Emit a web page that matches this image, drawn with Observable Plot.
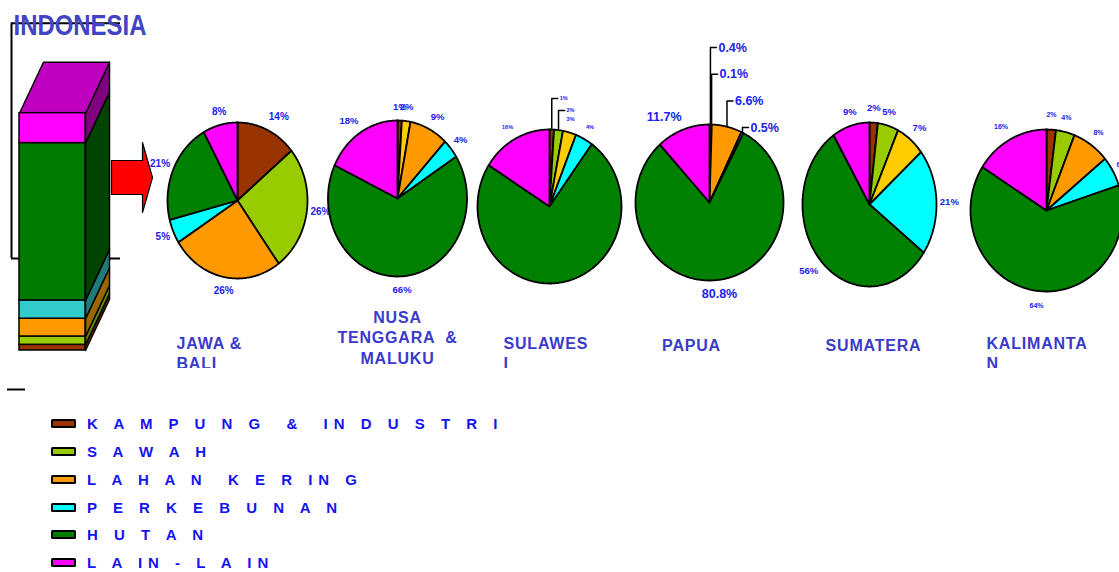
<!DOCTYPE html>
<html><head><meta charset="utf-8">
<script src="https://cdn.jsdelivr.net/npm/d3@7"></script>
<script src="https://cdn.jsdelivr.net/npm/@observablehq/plot@0.6"></script>
<style>
body{margin:0;background:#fff;font-family:"Liberation Sans",Arial,sans-serif;}
#chart{position:relative;width:1119px;height:572px;overflow:hidden;background:#fff}
#legend{padding-top:5px}
.row{height:27.75px;display:flex;align-items:center}
.sw{width:21px;height:5px;border:2px solid #000;border-radius:1.5px;margin-left:51px;margin-right:11px;flex:none}
.lt{font-weight:bold;font-size:15px;color:#1414f0;white-space:pre;letter-spacing:6px;line-height:15px}
</style></head><body><div id="chart"></div><script>
// ---------- data ----------
const categories = ["KAMPUNG & INDUSTRI","SAWAH","LAHAN KERING","PERKEBUNAN","HUTAN","LAIN-LAIN"];
const legendLabels = ["K A M P U N G  &  IN D U S T R I","S A W A H","L A H A N  K E R IN G","P E R K E B U N A N","H U T A N","L A IN - L A IN"];
const regionNames = ["JAWA & BALI","NUSA TENGGARA & MALUKU","SULAWESI","PAPUA","SUMATERA","KALIMANTAN"];
const regionLabelLines = [["JAWA &","BALI"],["NUSA","TENGGARA  &","MALUKU"],["SULAWES","I"],["PAPUA"],["SUMATERA"],["KALIMANTA","N"]];
const title = "INDONESIA";

const indonesiaShare = [2.4, 3.5, 7.5, 7.7, 66.3, 12.6];

const jawaBaliShare = [14, 26, 26, 5, 21, 8];
const jawaBaliLabels = ["14%","26%","26%","5%","21%","8%"];
const nusaTenggaraShare = [1, 2, 9, 4, 66, 18];
const nusaTenggaraLabels = ["1%","2%","9%","4%","66%","18%"];
const sulawesiShare = [1, 2, 3, 4, 74, 16];
const sulawesiLabels = ["1%","2%","3%","4%","","16%"];
const papuaShare = [0.4, 0.1, 6.6, 0.5, 80.8, 11.7];
const papuaLabels = ["0.4%","0.1%","6.6%","0.5%","80.8%","11.7%"];
const sumateraShare = [2, 5, 7, 21, 56, 9];
const sumateraLabels = ["2%","5%","7%","21%","56%","9%"];
const kalimantanShare = [2, 4, 8, 6, 64, 16];
const kalimantanLabels = ["2%","4%","8%","6%","64%","16%"];

const regionShares = [jawaBaliShare, nusaTenggaraShare, sulawesiShare, papuaShare, sumateraShare, kalimantanShare];
const regionLabels = [jawaBaliLabels, nusaTenggaraLabels, sulawesiLabels, papuaLabels, sumateraLabels, kalimantanLabels];

// ---------- styles / layout ----------
const pieColors = ["#993300","#99CC00","#FF9900","#00FFFF","#008000","#FF00FF"];
const gold = "#FFCC00";
const colorOverride = [{}, {1: gold}, {2: gold}, {}, {2: gold}, {}];
const barFront = ["#993300","#99CC00","#FF9900","#33CCCC","#007A00","#FF00FF"];
const barSide = ["#662200","#668800","#996600","#1F7A7A","#004400","#800080"];
const barTopColor = "#C000C0";
const labelBlue = "#2020F0";
const regionBlue = "#3A3ACB";
const font = "'Liberation Sans', Arial, sans-serif";

const W = 1119, H = 405;
const bar = {x0: 19, x1: 85, bottom: 350, top: 112.7, dx: 24, dy: -51};
const pieLayout = [
  {cx: 237, cy: 200, rx: 70, ry: 78, font: 10},
  {cx: 397, cy: 198, rx: 69.5, ry: 78, font: 9.5},
  {cx: 549, cy: 206, rx: 72, ry: 77, font: 5.5, leaders: 2, leaderTop: -31, leaderStep: 12},
  {cx: 709, cy: 202, rx: 74, ry: 78, font: 12.5, leaders: 4, leaderTop: -77, leaderStep: 26.7},
  {cx: 869, cy: 204, rx: 67, ry: 82, font: 9.5},
  {cx: 1046, cy: 210, rx: 76, ry: 81, font: 7}
];
const labelKx = 1.05, labelKy = 1.18;
const regionLabelLayout = [
  {x: 176, y: 343, anchor: "start"},
  {x: 397, y: 317, anchor: "middle"},
  {x: 503, y: 343, anchor: "start"},
  {x: 691, y: 345, anchor: "middle"},
  {x: 873, y: 345, anchor: "middle"},
  {x: 986, y: 343, anchor: "start"}
];

// ---------- bar geometry ----------
const barY = d3.scaleLinear().domain([0, 100]).range([bar.bottom, bar.top]);
let cum = 0;
const segments = indonesiaShare.map((v, i) => {
  const s = {cat: categories[i], y0: barY(cum), y1: barY(cum + v), front: barFront[i], side: barSide[i]};
  cum += v;
  return s;
});
const sidePts = segments.flatMap((s, i) => [
  [bar.x1, s.y0], [bar.x1 + bar.dx, s.y0 + bar.dy], [bar.x1 + bar.dx, s.y1 + bar.dy], [bar.x1, s.y1], [bar.x1, s.y0]
].map(([x, y]) => ({x, y, key: "side" + i, fill: s.side})));
const yt = barY(100);
const topPts = [[bar.x0, yt], [bar.x0 + bar.dx, yt + bar.dy], [bar.x1 + bar.dx, yt + bar.dy], [bar.x1, yt], [bar.x0, yt]]
  .map(([x, y]) => ({x, y, key: "top", fill: barTopColor}));

// arrow
const ar = {x: 111, y: 177, body: 31, head: 10, bh: 17, hh: 35};
const arrowPts = [[ar.x, ar.y - ar.bh], [ar.x + ar.body, ar.y - ar.bh], [ar.x + ar.body, ar.y - ar.hh], [ar.x + ar.body + ar.head, ar.y],
  [ar.x + ar.body, ar.y + ar.hh], [ar.x + ar.body, ar.y + ar.bh], [ar.x, ar.y + ar.bh], [ar.x, ar.y - ar.bh]]
  .map(([x, y]) => ({x, y}));

// ---------- pies ----------
const pie = d3.pie().sort(null).value(d => d);
const pieMarks = [];
regionShares.forEach((vals, r) => {
  const L = pieLayout[r];
  const arcs = pie(vals);
  const pts = [];
  arcs.forEach((a, i) => {
    const key = r + "-" + i;
    const fill = colorOverride[r][i] || pieColors[i];
    pts.push({x: L.cx, y: L.cy, key, fill});
    const n = Math.max(2, Math.ceil((a.endAngle - a.startAngle) / (Math.PI / 180)));
    for (let k = 0; k <= n; k++) {
      const t = a.startAngle + (a.endAngle - a.startAngle) * k / n;
      pts.push({x: L.cx + L.rx * Math.sin(t), y: L.cy - L.ry * Math.cos(t), key, fill});
    }
    pts.push({x: L.cx, y: L.cy, key, fill});
  });
  pieMarks.push(Plot.line(pts, {x: "x", y: "y", z: "key", fill: "fill", stroke: "#000", strokeWidth: 1.8, strokeLinejoin: "round"}));

  const labs = [], leaderPts = [], leaderLabs = [];
  arcs.forEach((a, i) => {
    const text = regionLabels[r][i];
    if (!text) return;
    const m = (a.startAngle + a.endAngle) / 2;
    const s = Math.sin(m), c = Math.cos(m);
    if (L.leaders && i < L.leaders) {
      const px = L.cx + L.rx * s, py = L.cy - L.ry * c;
      const ly = L.cy - L.ry + L.leaderTop + i * L.leaderStep;
      [[px, py], [px, ly], [px + 6, ly]].forEach(([x, y]) => leaderPts.push({x, y, key: i}));
      leaderLabs.push({x: px + 8, y: ly, text});
    } else {
      labs.push({x: L.cx + L.rx * labelKx * s, y: L.cy - L.ry * labelKy * c, text,
        anchor: s > 0.3 ? "start" : s < -0.3 ? "end" : "middle"});
    }
  });
  if (leaderPts.length) {
    pieMarks.push(Plot.line(leaderPts, {x: "x", y: "y", z: "key", stroke: "#000", strokeWidth: 1.5}));
    pieMarks.push(Plot.text(leaderLabs, {x: "x", y: "y", text: "text", textAnchor: "start", fontSize: L.font, fontWeight: "bold", fontFamily: font, fill: labelBlue}));
  }
  for (const anchor of ["start", "middle", "end"]) {
    pieMarks.push(Plot.text(labs.filter(d => d.anchor === anchor), {x: "x", y: "y", text: "text", textAnchor: anchor, fontSize: L.font, fontWeight: "bold", fontFamily: font, fill: labelBlue}));
  }
});

// region labels
const regionMarks = regionLabelLines.map((lines, r) => {
  const L = regionLabelLayout[r];
  return Plot.text(lines.map((t, j) => ({t, y: L.y + j * 20.5})), {x: () => L.x, y: "y", text: "t", textAnchor: L.anchor,
    fontSize: 16, fontWeight: "bold", fontFamily: font, fill: regionBlue});
});

const chart = Plot.plot({
  width: W, height: H, margin: 0,
  x: {domain: [0, W], range: [0, W], axis: null},
  y: {domain: [0, H], range: [0, H], axis: null},
  color: {type: "identity"},
  style: {background: "white"},
  marks: [
    Plot.ruleX([11], {y1: 22.7, y2: 258, stroke: "#000", strokeWidth: 2}),
    Plot.ruleY([22.7, 258], {x1: 11, x2: 120, stroke: "#000", strokeWidth: 2}),
    Plot.ruleY([389], {x1: 7, x2: 25, stroke: "#000", strokeWidth: 2}),
    Plot.text([title], {x: 13, y: 25, text: d => d, textAnchor: "start", fontSize: 29, fontWeight: "bold",
      fontFamily: font, fill: "#4343C6"}),
    Plot.line(sidePts, {x: "x", y: "y", z: "key", fill: "fill", stroke: "#000", strokeWidth: 1.5}),
    Plot.line(topPts, {x: "x", y: "y", z: "key", fill: "fill", stroke: "#000", strokeWidth: 1.5}),
    Plot.rect(segments, {x1: () => bar.x0, x2: () => bar.x1, y1: "y0", y2: "y1", fill: "front", stroke: "#000", strokeWidth: 1.5}),
    Plot.line(arrowPts, {x: "x", y: "y", fill: "#FF0000", stroke: "#000", strokeWidth: 1.2}),
    ...pieMarks,
    ...regionMarks,
    Plot.rect([0], {x1: 150, x2: W, y1: 368, y2: H, fill: "white"})
  ]
});

// narrow title and slightly spaced region labels
const regionLineSet = new Set(regionLabelLines.flat());
d3.select(chart).selectAll("text").each(function() {
  const t = this.textContent;
  if (t === title) {
    this.setAttribute("textLength", "133");
    this.setAttribute("lengthAdjust", "spacingAndGlyphs");
  } else if (regionLineSet.has(t)) {
    this.style.letterSpacing = "0.8px";
  }
});

const root = d3.select("#chart");
root.node().appendChild(chart);
const legend = root.append("div").attr("id", "legend");
categories.forEach((c, i) => {
  const row = legend.append("div").attr("class", "row").attr("title", c);
  row.append("div").attr("class", "sw").style("background", pieColors[i]);
  row.append("span").attr("class", "lt").text(legendLabels[i]);
});
</script></body></html>
